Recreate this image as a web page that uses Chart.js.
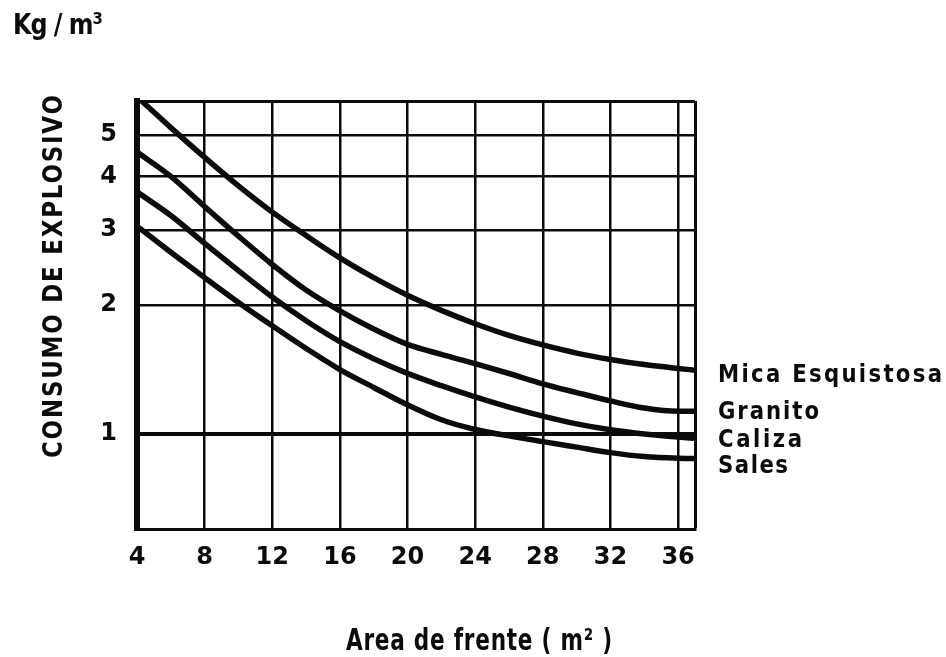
<!DOCTYPE html>
<html>
<head>
<meta charset="utf-8">
<script src="https://cdn.jsdelivr.net/npm/chart.js@4.4.1/dist/chart.umd.min.js"></script>
<style>
  html, body { margin: 0; padding: 0; background: #ffffff; }
  #c { display: block; }
</style>
</head>
<body>
<canvas id="c" width="946" height="657"></canvas>
<script>
// Frontal area of the heading (m2) at which each curve is sampled
const areaValues = [4, 6, 8, 10, 12, 14, 16, 18, 20, 22, 24, 26, 28, 30, 32, 34, 36, 37];

// Explosive consumption (kg/m3) for each rock type
const micaEsquistosa = [6.14, 5.20, 4.43, 3.80, 3.30, 2.91, 2.58, 2.32, 2.11, 1.945, 1.81, 1.70, 1.615, 1.546, 1.494, 1.453, 1.423, 1.41];
const granito        = [4.56, 4.00, 3.40, 2.90, 2.49, 2.17, 1.94, 1.76, 1.62, 1.535, 1.46, 1.385, 1.31, 1.25, 1.195, 1.15, 1.13, 1.13];
const caliza         = [3.68, 3.24, 2.79, 2.41, 2.09, 1.84, 1.644, 1.50, 1.386, 1.297, 1.221, 1.156, 1.101, 1.056, 1.023, 1.00, 0.984, 0.977];
const sales          = [3.06, 2.66, 2.32, 2.03, 1.79, 1.585, 1.415, 1.285, 1.17, 1.08, 1.025, 0.99, 0.96, 0.932, 0.905, 0.886, 0.878, 0.877];

const seriesNames = ['Mica Esquistosa', 'Granito', 'Caliza', 'Sales'];
const seriesValues = [micaEsquistosa, granito, caliza, sales];

// Axis ticks and ranges
const xTickValues = [4, 8, 12, 16, 20, 24, 28, 32, 36];
const xRange = [4, 37];
const yTickValues = [1, 2, 3, 4, 5];
const yRange = [0.6, 6];

const unitText = 'Kg / m³';
const yTitleText = 'CONSUMO DE EXPLOSIVO';
const xTitleText = 'Area de frente ( m² )';

const INK = '#0b0b0b';
const FONT = '"DejaVu Sans", sans-serif';

// Writes a string condensed horizontally and spread to a given width
function fitText(ctx, text, x, y, width, squeeze) {
  ctx.save();
  ctx.translate(x, y);
  ctx.scale(squeeze, 1);
  const target = width / squeeze;
  if ('letterSpacing' in ctx) ctx.letterSpacing = '0px';
  const base = ctx.measureText(text).width;
  if ('letterSpacing' in ctx) {
    ctx.letterSpacing = ((target - base) / Math.max(text.length - 1, 1)) + 'px';
  } else {
    ctx.scale(target / base, 1);
  }
  ctx.fillText(text, 0, 0);
  ctx.restore();
}

// Unit caption, axis titles and the names written at the end of each curve
const lettering = {
  id: 'lettering',
  afterDraw(chart) {
    const { ctx, chartArea: a } = chart;
    ctx.save();
    ctx.fillStyle = INK;
    ctx.textAlign = 'left';
    ctx.textBaseline = 'alphabetic';

    ctx.font = 'bold 29px ' + FONT;
    fitText(ctx, unitText, 13, 34, 90, 0.82);

    ctx.save();
    ctx.translate(62, 458);
    ctx.rotate(-Math.PI / 2);
    ctx.font = 'bold 27px ' + FONT;
    fitText(ctx, yTitleText, 0, 0, 363, 0.85);
    ctx.restore();

    ctx.font = 'bold 30px ' + FONT;
    fitText(ctx, xTitleText, 346, 650, 266, 0.72);

    const widths = [224, 101, 84, 70];
    const nudge = [5, 1, 2, 8];
    ctx.font = 'bold 25px ' + FONT;
    ctx.textBaseline = 'middle';
    chart.data.datasets.forEach((ds, i) => {
      const pts = chart.getDatasetMeta(i).data;
      const last = pts[pts.length - 1];
      fitText(ctx, ds.label, a.right + 23, last.y + nudge[i], widths[i], 0.85);
    });
    ctx.restore();
  }
};

const datasets = seriesNames.map((name, i) => ({
  label: name,
  data: areaValues.map((x, j) => ({ x: x, y: seriesValues[i][j] })),
  borderColor: INK,
  borderWidth: 5.5,
  pointRadius: 0,
  fill: false,
  cubicInterpolationMode: 'monotone',
  clip: 0
}));

new Chart(document.getElementById('c'), {
  type: 'line',
  data: { datasets },
  plugins: [lettering],
  options: {
    responsive: false,
    animation: false,
    devicePixelRatio: 1,
    layout: { padding: { left: 0, top: 101, right: 251, bottom: 58 } },
    plugins: { legend: { display: false }, title: { display: false }, tooltip: { enabled: false } },
    scales: {
      x: {
        type: 'linear',
        min: xRange[0],
        max: xRange[1],
        afterBuildTicks(scale) {
          scale.ticks = xTickValues.concat([xRange[1]]).map(v => ({ value: v }));
        },
        afterFit(scale) { scale.height = 70; },
        ticks: {
          autoSkip: false,
          maxRotation: 0,
          padding: 14,
          color: INK,
          font: { family: FONT, size: 24, weight: 'bold' },
          callback: v => xTickValues.includes(v) ? String(v) : ''
        },
        grid: {
          color: INK,
          drawTicks: false,
          lineWidth: c => (c.tick && c.tick.value === xRange[1]) ? 3 : 2.5
        },
        border: { display: true, color: INK, width: 3 }
      },
      y: {
        type: 'logarithmic',
        min: yRange[0],
        max: yRange[1],
        afterBuildTicks(scale) {
          scale.ticks = [yRange[0]].concat(yTickValues, [yRange[1]]).map(v => ({ value: v }));
        },
        afterFit(scale) { scale.width = 137; },
        ticks: {
          padding: 20,
          color: INK,
          font: { family: FONT, size: 24, weight: 'bold' },
          callback: v => yTickValues.includes(v) ? String(v) : ''
        },
        grid: {
          color: INK,
          drawTicks: false,
          lineWidth: c => {
            const v = c.tick ? c.tick.value : null;
            if (v === 1) return 4;
            if (v === yRange[0] || v === yRange[1]) return 3;
            return 2.5;
          }
        },
        border: { display: true, color: INK, width: 6 }
      }
    }
  }
});
</script>
</body>
</html>
